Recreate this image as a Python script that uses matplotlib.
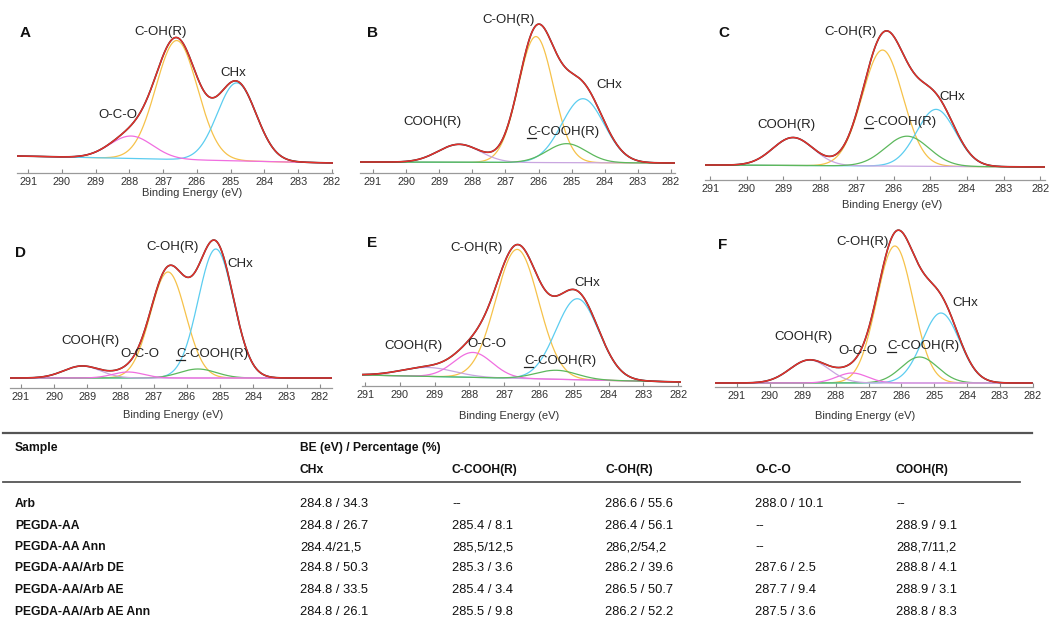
import numpy as np
import matplotlib
matplotlib.use("Agg")
import matplotlib.pyplot as plt
from matplotlib.lines import Line2D

W, H = 1054, 625
plt.rcParams['font.family'] = ['Liberation Sans', 'DejaVu Sans']

# ---------------- data ----------------
component_names = ["CHx", "C-COOH(R)", "C-OH(R)", "O-C-O", "COOH(R)"]
component_colors = ["#5ccdf0", "#5cb85c", "#f6c24a", "#f06ee0", "#c9a6e0"]
nan = np.nan

# peak centres (eV), heights (rel. intensity), FWHM (eV); nan = component absent
A_center = [284.82, nan, 286.6, 287.95, nan]
A_height = [78, 0, 119, 22.5, 0]
A_fwhm = [1.35, nan, 1.45, 1.5, nan]
A_bg = [17, 10]

B_center = [284.66, 285.15, 286.08, nan, 288.4]
B_height = [64, 19, 126, 0, 18]
B_fwhm = [1.5, 1.4, 1.25, nan, 1.5]
B_bg = [11, 10]

C_center = [284.84, 285.63, 286.3, nan, 288.74]
C_height = [57, 30, 116, 0, 28]
C_fwhm = [1.25, 1.4, 1.3, nan, 1.3]
C_bg = [15, 13]

D_center = [285.13, 285.67, 286.57, 287.77, 289.16]
D_height = [129, 9, 106, 6, 12]
D_fwhm = [1.25, 1.3, 1.25, 1.1, 1.3]
D_bg = [10, 10]

E_center = [284.9, 285.5, 286.63, 287.9, 289.2]
E_height = [81, 9, 129, 25, 9]
E_fwhm = [1.45, 1.4, 1.45, 1.3, 1.8]
E_bg = [11, 4]

F_center = [284.8, 285.45, 286.2, 287.5, 288.8]
F_height = [70, 26, 137, 10, 23]
F_fwhm = [1.33, 1.3, 1.3, 1.1, 1.4]
F_bg = [4, 4]

x_ticks = [291, 290, 289, 288, 287, 286, 285, 284, 283, 282]

# table
table_header = "BE (eV) / Percentage (%)"
table_cols = ["CHx", "C-COOH(R)", "C-OH(R)", "O-C-O", "COOH(R)"]
table_samples = ["Arb", "PEGDA-AA", "PEGDA-AA Ann", "PEGDA-AA/Arb DE",
                 "PEGDA-AA/Arb AE", "PEGDA-AA/Arb AE Ann"]
col_CHx = ["284.8 / 34.3", "284.8 / 26.7", "284.4/21,5", "284.8 / 50.3", "284.8 / 33.5", "284.8 / 26.1"]
col_CCOOH = ["--", "285.4 / 8.1", "285,5/12,5", "285.3 / 3.6", "285.4 / 3.4", "285.5 / 9.8"]
col_COH = ["286.6 / 55.6", "286.4 / 56.1", "286,2/54,2", "286.2 / 39.6", "286.5 / 50.7", "286.2 / 52.2"]
col_OCO = ["288.0 / 10.1", "--", "--", "287.6 / 2.5", "287.7 / 9.4", "287.5 / 3.6"]
col_COOH = ["--", "288.9 / 9.1", "288,7/11,2", "288.8 / 4.1", "288.9 / 3.1", "288.8 / 8.3"]

# ---------------- figure ----------------
fig = plt.figure(figsize=(W / 100, H / 100), dpi=100)


def fx(x):
    return x / W


def fy(y):
    return 1 - y / H


def ftext(x, y, s, **kw):
    kw.setdefault("ha", "center")
    kw.setdefault("va", "center")
    return fig.text(fx(x), fy(y), s, **kw)


def gauss(e, c, h, w):
    s = w / 2.3548
    return h * np.exp(-(e - c) ** 2 / (2 * s ** 2))


def panel(box, xlim, centers, heights, fwhms, bg, order):
    x0, x1, yb, yt = box
    ax = fig.add_axes([fx(x0), fy(yb), (x1 - x0) / W, (yb - yt) / H])
    ax.set_xlim(*xlim)
    ax.set_ylim(0, yb - yt)
    e = np.linspace(xlim[0], xlim[1], 800)
    back = bg[0] + (bg[1] - bg[0]) * (e - xlim[0]) / (xlim[1] - xlim[0])
    comps = {}
    total = back.copy()
    for i in range(len(centers)):
        if np.isnan(centers[i]):
            continue
        g = gauss(e, centers[i], heights[i], fwhms[i])
        comps[i] = g
        total = total + g
    ax.plot(e, total, color="#3a3a3a", lw=1.2, zorder=3)
    ax.plot(e, total, color="#e8302a", lw=1.0, zorder=4)
    for i in order:
        if i in comps:
            ax.plot(e, back + comps[i], color=component_colors[i], lw=0.9, zorder=2)
    for sp in ["top", "left", "right"]:
        ax.spines[sp].set_visible(False)
    ax.spines["bottom"].set_color("#9a9a9a")
    ax.spines["bottom"].set_linewidth(0.9)
    ax.set_yticks([])
    ax.set_xticks(x_ticks)
    ax.set_xticklabels([str(t) for t in x_ticks])
    ax.tick_params(axis="x", direction="in", length=3, width=0.8, color="#8a8a8a",
                   labelsize=7.8, labelcolor="#333333", pad=3)
    ax.patch.set_alpha(0)
    return ax


panel((17, 333, 173, 10), (291.33, 281.97), A_center, A_height, A_fwhm, A_bg, [2, 0, 3])
panel((360, 675, 173, 10), (291.39, 281.88), B_center, B_height, B_fwhm, B_bg, [2, 0, 4, 1])
panel((705, 1045, 180, 10), (291.14, 281.87), C_center, C_height, C_fwhm, C_bg, [2, 0, 4, 1])
panel((10, 332, 388, 225), (291.33, 281.63), D_center, D_height, D_fwhm, D_bg, [2, 0, 1, 4, 3])
panel((362, 681, 386, 225), (291.09, 281.92), E_center, E_height, E_fwhm, E_bg, [2, 0, 4, 3, 1])
panel((715, 1033, 387, 225), (291.67, 282.03), F_center, F_height, F_fwhm, F_bg, [2, 0, 1, 3, 4])

# panel letters
for (x, y), s in zip([(20, 33), (367, 33), (718, 33), (15, 253), (367, 243), (718, 245)],
                     ["A", "B", "C", "D", "E", "F"]):
    ftext(x, y, s, ha="left", fontsize=11, fontweight="bold", color="#111111")

# axis titles
for x, y in [(192, 193), (892, 205), (173, 415), (509, 416), (865, 416)]:
    ftext(x, y, "Binding Energy (eV)", fontsize=8, color="#333333")

lab_kw = dict(fontsize=9.5, color="#222222")
renderer = fig.canvas.get_renderer()


def cc_label(x, y):
    t = ftext(x, y, "C-COOH(R)", **lab_kw)
    bb = t.get_window_extent(renderer=renderer)
    tc = ftext(0, 0, "C", **lab_kw)
    wc = tc.get_window_extent(renderer=renderer).width
    tc.remove()
    yline = bb.y0 + 0.5
    fig.add_artist(Line2D([bb.x0 / W, (bb.x0 + wc) / W], [yline / H, yline / H],
                          transform=fig.transFigure, color="#222222", lw=0.9))


# A labels
ftext(161, 32, "C-OH(R)", **lab_kw)
ftext(233, 73, "CHx", **lab_kw)
ftext(118, 115, "O-C-O", **lab_kw)
# B labels
ftext(509, 20, "C-OH(R)", **lab_kw)
ftext(609, 85, "CHx", **lab_kw)
ftext(432, 122, "COOH(R)", **lab_kw)
cc_label(563, 132)
# C labels
ftext(851, 32, "C-OH(R)", **lab_kw)
ftext(952, 97, "CHx", **lab_kw)
ftext(786, 125, "COOH(R)", **lab_kw)
cc_label(900, 122)
# D labels
ftext(173, 247, "C-OH(R)", **lab_kw)
ftext(240, 264, "CHx", **lab_kw)
ftext(90, 341, "COOH(R)", **lab_kw)
ftext(140, 354, "O-C-O", **lab_kw)
cc_label(212, 354)
# E labels
ftext(477, 248, "C-OH(R)", **lab_kw)
ftext(587, 283, "CHx", **lab_kw)
ftext(413, 346, "COOH(R)", **lab_kw)
ftext(487, 344, "O-C-O", **lab_kw)
cc_label(560, 361)
# F labels
ftext(863, 242, "C-OH(R)", **lab_kw)
ftext(965, 303, "CHx", **lab_kw)
ftext(803, 337, "COOH(R)", **lab_kw)
ftext(858, 351, "O-C-O", **lab_kw)
cc_label(923, 346)

# ---------------- table ----------------
fig.add_artist(Line2D([fx(3), fx(1032)], [fy(433), fy(433)], transform=fig.transFigure,
                      color="#555555", lw=1.6))
fig.add_artist(Line2D([fx(3), fx(1020)], [fy(482), fy(482)], transform=fig.transFigure,
                      color="#555555", lw=1.3))
bkw = dict(fontsize=8.7, color="#111111", ha="left", fontweight="bold")
rkw = dict(fontsize=9.3, color="#111111", ha="left")
ftext(15, 448, "Sample", **bkw)
ftext(300, 448, table_header, **bkw)
col_x = [300, 452, 605, 755, 896]
for x, name in zip(col_x, table_cols):
    ftext(x, 470, name, **bkw)
row_y = [504, 526, 547, 568, 590, 612]
columns = [col_CHx, col_CCOOH, col_COH, col_OCO, col_COOH]
for r, (y, s) in enumerate(zip(row_y, table_samples)):
    ftext(15, y, s, **bkw)
    for x, col in zip(col_x, columns):
        ftext(x, y, col[r], **rkw)

fig.savefig("out.png", dpi=100)
